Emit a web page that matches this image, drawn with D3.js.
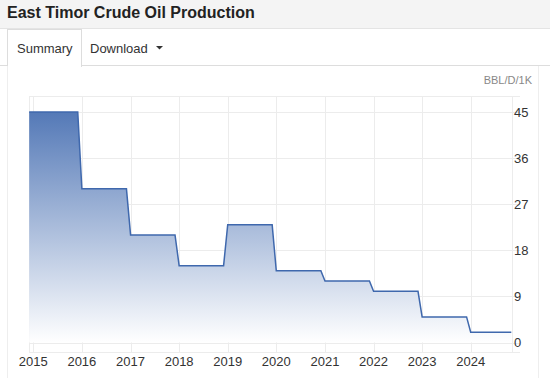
<!DOCTYPE html>
<html lang="en">
<head>
<meta charset="UTF-8"/>
<title>East Timor Crude Oil Production</title>
<script src="https://d3js.org/d3.v7.min.js"></script>
<style>
  body { margin: 0; background: #fff; font-family: "Liberation Sans", Arial, sans-serif; }
  svg { display: block; }
</style>
</head>
<body>
<div id="chart"></div>
<script>
// annual production, thousand barrels per day
var years = [2015, 2016, 2017, 2018, 2019, 2020, 2021, 2022, 2023, 2024];
var values = [45, 30, 21, 15, 23, 14, 12, 10, 5, 2];
var firstMonth = "2014-12";
var lastMonth = "2024-11";
var yTicks = [0, 9, 18, 27, 36, 45];
var unitLabel = "BBL/D/1K";

var w = 550, h = 378;
var parse = d3.timeParse("%Y-%m");

// step points: each year flat from Jan to Dec
var points = [];
years.forEach(function(y, i) {
    var start = i === 0 ? parse(firstMonth) : parse(y + "-01");
    var end = i === years.length - 1 ? parse(lastMonth) : parse(y + "-12");
    points.push({ date: start, value: values[i] });
    points.push({ date: end, value: values[i] });
});

var svg = d3.select("#chart").append("svg")
    .attr("width", w).attr("height", h);

// header bar
svg.append("rect").attr("x", 0).attr("y", 0).attr("width", w).attr("height", 28).attr("fill", "#f4f4f4");
svg.append("line").attr("x1", 0).attr("x2", w).attr("y1", 28.5).attr("y2", 28.5).attr("stroke", "#e4e4e4");
svg.append("text").attr("x", 7).attr("y", 18)
    .attr("font-size", 16).attr("font-weight", "bold").attr("fill", "#222")
    .text("East Timor Crude Oil Production");

// tabs
svg.append("line").attr("x1", 0).attr("x2", w).attr("y1", 65.5).attr("y2", 65.5).attr("stroke", "#ddd");
svg.append("rect").attr("x", 7.5).attr("y", 29.5).attr("width", 74).attr("height", 37)
    .attr("fill", "#fff").attr("stroke", "#ddd");
svg.append("rect").attr("x", 8).attr("y", 64).attr("width", 73).attr("height", 4).attr("fill", "#fff");
svg.append("text").attr("x", 17).attr("y", 53).attr("font-size", 13).attr("fill", "#333").text("Summary");
svg.append("text").attr("x", 90).attr("y", 53).attr("font-size", 13).attr("fill", "#333").text("Download");
svg.append("path").attr("d", "M156,46 L163,46 L159.5,49.5 Z").attr("fill", "#333");

// panel borders
svg.append("line").attr("x1", 7.5).attr("x2", 7.5).attr("y1", 66).attr("y2", h).attr("stroke", "#eee");
svg.append("line").attr("x1", 538.5).attr("x2", 538.5).attr("y1", 66).attr("y2", h).attr("stroke", "#eee");

var plotL = 29, plotR = 512, plotT = 96, plotB = 352;

var x = d3.scaleTime()
    .domain([new Date(2015, 0, 1), new Date(2024, 0, 1)])
    .range([33.3, 470.7]);
var y = d3.scaleLinear()
    .domain([0, 45])
    .range([342.5, 112]);

// frame + grid
var grid = svg.append("g").attr("stroke", "#ececec").attr("fill", "none");
grid.append("line").attr("x1", plotL).attr("x2", 520).attr("y1", plotT + 0.5).attr("y2", plotT + 0.5);
grid.append("line").attr("x1", plotL).attr("x2", 520).attr("y1", plotB + 0.5).attr("y2", plotB + 0.5);
grid.append("line").attr("x1", plotL + 0.5).attr("x2", plotL + 0.5).attr("y1", plotT).attr("y2", plotB);
grid.append("line").attr("x1", plotR + 0.5).attr("x2", plotR + 0.5).attr("y1", plotT).attr("y2", plotB);
grid.selectAll(".hg").data(yTicks).enter().append("line")
    .attr("x1", plotL).attr("x2", 520)
    .attr("y1", function(d) { return Math.round(y(d)) + 0.5; })
    .attr("y2", function(d) { return Math.round(y(d)) + 0.5; });
grid.selectAll(".vg").data(years).enter().append("line")
    .attr("y1", plotT).attr("y2", plotB)
    .attr("x1", function(d) { return Math.round(x(new Date(d, 0, 1))) + 0.5; })
    .attr("x2", function(d) { return Math.round(x(new Date(d, 0, 1))) + 0.5; });

// gradient fill
var defs = svg.append("defs");
var grad = defs.append("linearGradient").attr("id", "fillGrad")
    .attr("gradientUnits", "userSpaceOnUse")
    .attr("x1", 0).attr("x2", 0).attr("y1", y(45)).attr("y2", y(0));
grad.append("stop").attr("offset", "0%").attr("stop-color", "#5479b7");
grad.append("stop").attr("offset", "100%").attr("stop-color", "#ffffff");

var area = d3.area()
    .x(function(d) { return x(d.date); })
    .y0(y(0))
    .y1(function(d) { return y(d.value); });
var line = d3.line()
    .x(function(d) { return x(d.date); })
    .y(function(d) { return y(d.value); });

svg.append("path").datum(points).attr("d", area).attr("fill", "url(#fillGrad)");
svg.append("path").datum(points).attr("d", line)
    .attr("fill", "none").attr("stroke", "#3f68ad").attr("stroke-width", 1.5);

// y axis labels on the right
svg.selectAll(".yl").data(yTicks).enter().append("text")
    .attr("x", 514).attr("y", function(d) { return y(d) + 4.5; })
    .attr("font-size", 13).attr("fill", "#333")
    .text(function(d) { return d; });

// x axis labels
svg.selectAll(".xl").data(years).enter().append("text")
    .attr("x", function(d) { return x(new Date(d, 0, 1)); })
    .attr("y", 366).attr("text-anchor", "middle")
    .attr("font-size", 13).attr("fill", "#333")
    .text(function(d) { return d; });

svg.append("text").attr("x", 532).attr("y", 84).attr("text-anchor", "end")
    .attr("font-size", 11).attr("fill", "#888").text(unitLabel);
</script>
</body>
</html>
